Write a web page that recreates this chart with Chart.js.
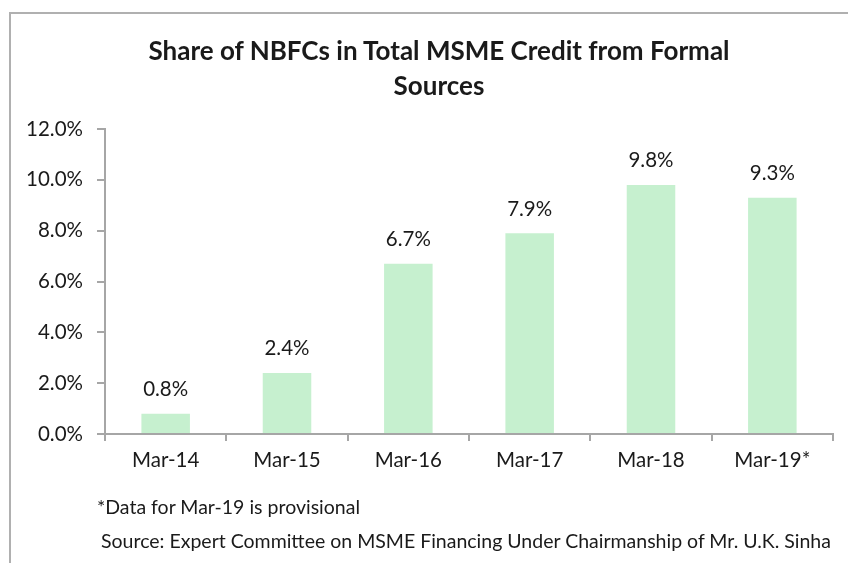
<!DOCTYPE html>
<html>
<head>
<meta charset="utf-8">
<script src="https://cdn.jsdelivr.net/npm/chart.js@4.4.0/dist/chart.umd.min.js"></script>
<style>
  body { margin: 0; background: #fff; font-family: Lato, "Open Sans", sans-serif; }
  #wrap { position: relative; width: 848px; height: 563px; overflow: hidden; }
  #frame { position: absolute; left: 9px; top: 12px; width: 900px; height: 600px; border: 2px solid #b0b0b0; box-sizing: border-box; }
  #title { position: absolute; left: 0; top: 33px; width: 878px; text-align: center; font-weight: bold; font-size: 26px; line-height: 35px; color: #1a1a1a; }
  .note { position: absolute; font-size: 19.5px; line-height: 23px; color: #1a1a1a; white-space: nowrap; }
  canvas { position: absolute; left: 0; top: 0; }
</style>
</head>
<body>
<div id="wrap">
  <div id="frame"></div>
  <canvas id="barChart" width="848" height="563"></canvas>
  <div id="title">Share of NBFCs in Total MSME Credit from Formal<br>Sources</div>
  <div class="note" style="left:97px; top:495px;">*Data for Mar-19 is provisional</div>
  <div class="note" style="left:101px; top:529px;">Source: Expert Committee on MSME Financing Under Chairmanship of Mr. U.K. Sinha</div>
</div>
<script>
var categories = ['Mar-14', 'Mar-15', 'Mar-16', 'Mar-17', 'Mar-18', 'Mar-19*'];
var shareValues = [0.008, 0.024, 0.067, 0.079, 0.098, 0.093];
var yTicks = [0, 0.02, 0.04, 0.06, 0.08, 0.10, 0.12];

var fmtPct = function(v) {
    return (v * 100).toFixed(1) + '%';
}

// draws the value above each bar
var valueLabels = {
    id: 'valueLabels',
    afterDatasetsDraw: function(chart) {
        var ctx = chart.ctx;
        var meta = chart.getDatasetMeta(0);
        ctx.save();
        ctx.font = '20.5px Lato, "Open Sans", sans-serif';
        ctx.fillStyle = '#1a1a1a';
        ctx.textAlign = 'center';
        ctx.textBaseline = 'bottom';
        meta.data.forEach(function(bar, i) {
            ctx.fillText(fmtPct(shareValues[i]), bar.x, bar.y - 14);
        });
        ctx.restore();
    }
};

var axisColor = '#a6a6a6';
var tickFont = { family: 'Lato, "Open Sans", sans-serif', size: 20.5 };

var chart = new Chart(document.getElementById('barChart').getContext('2d'), {
    type: 'bar',
    data: {
        labels: categories,
        datasets: [{
            data: shareValues,
            backgroundColor: '#c6f0cf',
            categoryPercentage: 1.0,
            barPercentage: 0.4
        }]
    },
    options: {
        responsive: false,
        animation: false,
        layout: { padding: { top: 129, right: 15, left: 0, bottom: 0 } },
        plugins: {
            legend: { display: false },
            tooltip: { enabled: false }
        },
        scales: {
            x: {
                grid: { drawOnChartArea: false, drawTicks: true, tickLength: 7, color: axisColor, lineWidth: 2, offset: true },
                border: { color: axisColor, width: 2 },
                ticks: { color: '#1a1a1a', font: tickFont, padding: 7 },
                afterFit: function(scale) { scale.height = 129; }
            },
            y: {
                min: 0,
                max: 0.12,
                afterBuildTicks: function(scale) {
                    scale.ticks = yTicks.map(function(v) { return { value: v }; });
                },
                grid: { drawOnChartArea: false, drawTicks: true, tickLength: 8, color: axisColor, lineWidth: 2 },
                border: { color: axisColor, width: 2 },
                ticks: {
                    color: '#1a1a1a',
                    font: tickFont,
                    padding: 14,
                    callback: function(v) { return fmtPct(v); }
                },
                afterFit: function(scale) { scale.width = 105; }
            }
        }
    },
    plugins: [valueLabels]
});
</script>
</body>
</html>
